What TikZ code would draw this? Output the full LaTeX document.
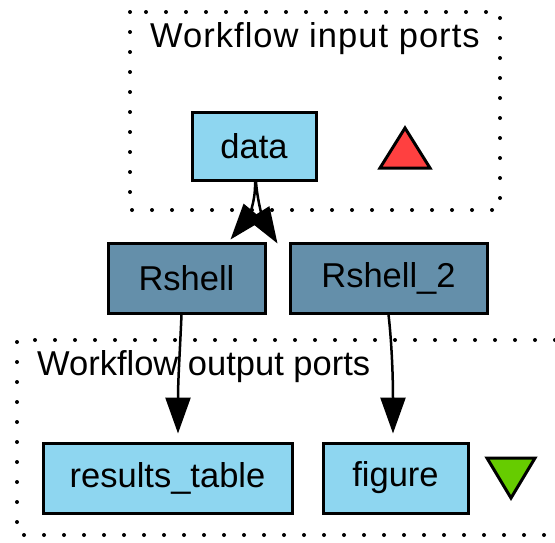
\documentclass[tikz,border=0pt]{standalone}
\usepackage{fontspec}
\setmainfont{Liberation Sans}
\usetikzlibrary{arrows.meta}
\definecolor{portblue}{HTML}{8ED6F0}
\definecolor{procblue}{HTML}{648FAA}
\definecolor{inred}{HTML}{FF4040}
\definecolor{outgreen}{HTML}{66CC00}
\begin{document}
\begin{tikzpicture}[x=1pt,y=-1pt,
  bigfont/.style={font=\fontsize{34.5}{40}\selectfont},
  portbox/.style={draw=black, line width=3pt, fill=portblue, bigfont, inner sep=0pt, minimum height=68pt},
  procbox/.style={draw=black, line width=3pt, fill=procblue, bigfont, inner sep=0pt, minimum height=70pt},
  conn/.style={draw=black, line width=2.5pt, -{Triangle[length=36pt,width=25pt]}},
  dotline/.style={draw=black, line width=4pt, line cap=round, dash pattern=on 0pt off 20pt},
  lbl/.style={bigfont, anchor=base west, inner sep=0pt},
  tri/.style={draw=black, line width=3pt, line join=miter}]
\useasboundingbox (0,0) rectangle (555,542);
% clusters
\draw[dotline] (130,12) rectangle (500,210);
\draw[dotline] (555,340) -- (17,340) -- (17,535) -- (555,535);
\node[lbl, font=\fontsize{34.5}{40}\selectfont\addfontfeatures{LetterSpace=3}] (inlbl) at (150,47) {Workflow input ports};
\node[lbl] (outlbl) at (37,375) {Workflow output ports};
% nodes
\node[portbox, minimum width=124pt] (data) at (254,146.5) {data};
\node[procbox, minimum width=157pt] (rshell) at (186.5,278) {Rshell};
\node[procbox, minimum width=197pt] (rshell2) at (388.5,278) {Rshell\_2};
\node[portbox, minimum width=249pt, minimum height=70pt] (results) at (167.5,478) {results\_table};
\node[portbox, minimum width=145pt, minimum height=70pt] (figure) at (395.5,478) {figure};
% triangles
\draw[tri, fill=inred] (380,168) -- (405,128) -- (430,168) -- cycle;
\draw[tri, fill=outgreen] (487,458) -- (535,458) -- (511,498) -- cycle;
% connectors
\draw[conn] ([xshift=1pt]data.south) .. controls (256,205) and (245,222) .. ([xshift=44pt,yshift=2pt]rshell.north);
\draw[conn] ([xshift=2pt]data.south) .. controls (258,208) and (266,225) .. ([xshift=-11pt,yshift=-2pt]rshell2.north west);
\draw[conn] ([xshift=-5pt]rshell.south) .. controls (180,350) and (178,380) .. ([xshift=10.5pt,yshift=8pt]results.north);
\draw[conn] ([xshift=0pt]rshell2.south) .. controls (392,345) and (393,380) .. ([xshift=-2.5pt,yshift=8pt]figure.north);
\end{tikzpicture}
\end{document}
